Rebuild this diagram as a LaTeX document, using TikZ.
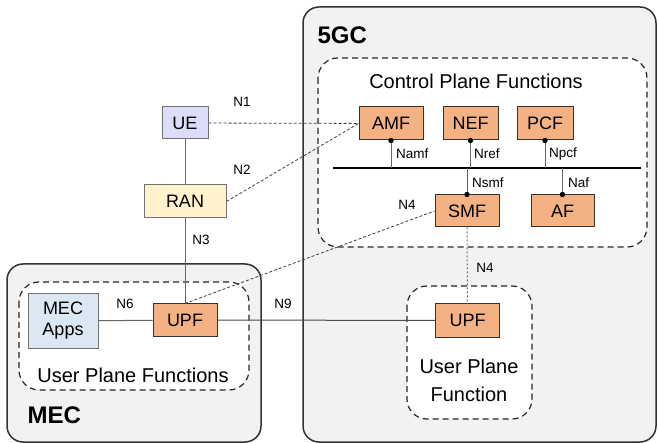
\documentclass[tikz,border=0pt]{standalone}
\usepackage{fontspec}
\setmainfont{Liberation Sans}
\usepackage{xcolor}
\definecolor{nforange}{HTML}{F4B183}
\definecolor{uefill}{HTML}{DDDDFB}
\definecolor{ranfill}{HTML}{FFF2CC}
\definecolor{appfill}{HTML}{DCE7F4}
\definecolor{boxgray}{HTML}{F2F2F2}

\begin{document}
\begin{tikzpicture}[x=1pt,y=-1pt]
	\tikzstyle{nf}=[draw=black!80,line width=1pt,fill=nforange,minimum width=64pt,minimum height=33pt,inner sep=0pt,font=\fontsize{18}{20}\selectfont]
	\tikzstyle{site}=[draw=black!80,line width=1.5pt,fill=boxgray,rounded corners=16pt]
	\tikzstyle{group}=[draw=black!85,line width=1.2pt,fill=white,dash pattern=on 6pt off 4pt,rounded corners=20pt]
	\tikzstyle{ref}=[font=\fontsize{13.5}{15}\selectfont,inner sep=1pt]
	\tikzstyle{grouplabel}=[font=\fontsize{20}{24}\selectfont,align=center]
	\tikzstyle{sitelabel}=[font=\fontsize{24}{26}\selectfont\bfseries]
	\tikzstyle{signal}=[draw=black!75,line width=0.8pt,dash pattern=on 3pt off 2pt]
	\tikzstyle{user}=[draw=black!60,line width=1pt]
	\useasboundingbox (0,0) rectangle (658,443);

	\draw[site] (303,7) rectangle (656,442);
	\draw[site] (7,264) rectangle (261,442);
	\draw[group] (318,58) rectangle (647,247);
	\draw[group] (19,282) rectangle (249,390);
	\draw[group] (407,286) rectangle (532,419);

	\node[sitelabel] (corelabel) at (314,35) [anchor=west] {5GC};
	\node[sitelabel] (meclabel) at (24,415) [anchor=west] {MEC};
	\node[grouplabel] (cpf) at (476,81) {Control Plane Functions};
	\node[grouplabel] (upfs) at (133,375) {User Plane Functions};
	\node[grouplabel] (upfc) at (469,380) {User Plane\\[4pt]Function};

	\node[nf] (amf) at (391,123.5) {AMF};
	\node[nf,minimum width=55pt] (nef) at (470.5,123.5) {NEF};
	\node[nf,minimum width=56pt] (pcf) at (545,123.5) {PCF};
	\node[nf,minimum height=32pt] (smf) at (467,211) {SMF};
	\node[nf,minimum width=63pt,minimum height=32pt] (af) at (562.5,211) {AF};
	\node[nf,minimum height=32pt] (upfm) at (185,320) {UPF};
	\node[nf,minimum height=33pt] (upfn) at (467.5,320.5) {UPF};

	\node[nf,fill=uefill,draw=black!55,minimum width=46pt,minimum height=32pt] (ue) at (185,123) {UE};
	\node[nf,fill=ranfill,draw=black!55,minimum width=82pt] (ran) at (185,201.5) {RAN};
	\node[nf,fill=appfill,draw=black!55,minimum width=70pt,minimum height=54pt,align=center,font=\fontsize{18}{21}\selectfont] (apps) at (63,321) {MEC\\Apps};

	\coordinate (busl) at (333,168);
	\coordinate (busr) at (641,168);
	\draw[line width=2.4pt] (busl) -- (busr);
	\draw[user] (amf.south) -- (amf.south |- busl);
	\draw[user] (nef.south) -- (nef.south |- busl);
	\draw[user] (pcf.south) -- (pcf.south |- busl);
	\draw[user] (smf.north) -- (smf.north |- busl);
	\draw[user] (af.north) -- (af.north |- busl);
	\fill (amf.south) circle (2.7);
	\fill (nef.south) circle (2.7);
	\fill (pcf.south) circle (2.7);
	\fill (smf.north) circle (2.7);
	\fill (af.north) circle (2.7);

	\node[ref,anchor=west] (namf) at (395,154) {Namf};
	\node[ref,anchor=west] (nref) at (473,154) {Nref};
	\node[ref,anchor=west] (npcf) at (548,154) {Npcf};
	\node[ref,anchor=west] (nsmf) at (471,183) {Nsmf};
	\node[ref,anchor=west] (naf) at (567,183) {Naf};

	\draw[user] (ue) -- (ran);
	\draw[user] (ran) -- (upfm);
	\draw[user] (apps) -- (upfm);
	\draw[user,draw=black!70] (upfm) -- (upfn);
	\draw[signal] (ue) -- (amf);
	\draw[signal] (ran.east) -- (amf.west);
	\draw[signal] (upfm.north) -- (smf.west);
	\draw[draw=black!55,line width=1pt,dash pattern=on 2pt off 2pt] (smf) -- (upfn);

	\node[ref] (n1) at (242,102) {N1};
	\node[ref] (n2) at (242,170) {N2};
	\node[ref] (n3) at (201,240) {N3};
	\node[ref] (n4a) at (407,205) {N4};
	\node[ref] (n4b) at (485,268) {N4};
	\node[ref] (n6) at (125,304) {N6};
	\node[ref] (n9) at (283,304) {N9};
\end{tikzpicture}
\end{document}
